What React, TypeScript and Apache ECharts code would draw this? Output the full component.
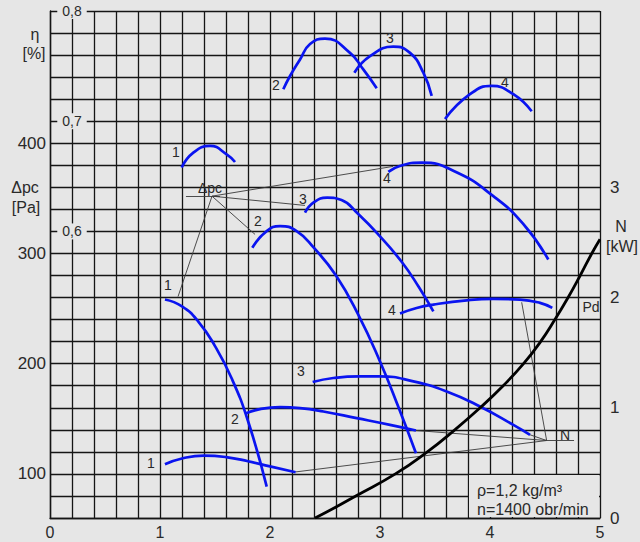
import React, { useEffect, useRef } from "react";
import * as echarts from "echarts";

// ---- tick labels ----
const xTickLabels = [0, 1, 2, 3, 4, 5];
const dpcTickLabels = [100, 200, 300, 400];
const etaTickLabels = [0.6, 0.7, 0.8];
const nTickLabels = [0, 1, 2, 3];

// ---- pressure curves Δpc [Pa] vs flow ----
const dpc1 = [[1.045, 258.2], [1.2, 252], [1.35, 238], [1.5, 216], [1.65, 187], [1.8, 148], [1.97, 88.5]];
const dpc2 = [[1.839, 305.2], [1.97, 320.3], [2.091, 324.8], [2.242, 320.3], [2.4, 305], [2.6, 280], [2.8, 245], [3.0, 202], [3.17, 160], [3.327, 118.8]];
const dpc3 = [[2.318, 337], [2.4, 346.5], [2.52, 350.6], [2.65, 348.5], [2.8, 336], [3.0, 315.5], [3.2, 292], [3.35, 270], [3.485, 247.5]];
const dpc4 = [[3.076, 374], [3.18, 379.4], [3.38, 382.5], [3.7, 373.4], [4.03, 352], [4.3, 327], [4.53, 294.5]];

// ---- efficiency curves η ----
const eta1 = [[1.197, 0.658], [1.303, 0.6715], [1.455, 0.6776], [1.606, 0.670], [1.682, 0.663]];
const eta2 = [[2.121, 0.729], [2.182, 0.741], [2.273, 0.756], [2.364, 0.770], [2.5, 0.775], [2.727, 0.762], [2.848, 0.747], [2.97, 0.730]];
const eta3 = [[2.767, 0.744], [2.909, 0.759], [3.121, 0.7676], [3.273, 0.762], [3.394, 0.744], [3.47, 0.723]];
const eta4 = [[3.591, 0.702], [3.818, 0.7245], [4.015, 0.732], [4.212, 0.7245], [4.379, 0.709]];

// ---- lower curves (on Δpc scale) ----
const low1 = [[1.045, 108.8], [1.2, 114], [1.4, 116.6], [1.6, 115.3], [1.8, 111.5], [2.0, 106.8], [2.233, 101.5]];
const low2 = [[1.773, 154.5], [1.909, 158.8], [2.091, 160.6], [2.273, 159.7], [2.485, 156.6], [2.788, 150.6], [3.091, 144.5], [3.327, 139.4]];
const low3 = [[2.388, 183.4], [2.576, 187], [2.818, 188.5], [3.0, 188.5], [3.303, 183.9], [3.606, 174.8], [3.909, 161.2], [4.212, 144.5], [4.364, 135.5]];
const low4 = [[3.182, 245.5], [3.333, 250.5], [3.485, 253.6], [3.788, 257.5], [4.03, 258.8], [4.273, 258.2], [4.455, 255.2], [4.566, 250.6]];

// ---- power N [kW] ----
const powerN = [[2.41, 0], [2.6, 0.1], [2.78, 0.2], [3.14, 0.4], [3.43, 0.6], [3.68, 0.8], [3.91, 1.0], [4.12, 1.2], [4.305, 1.4], [4.46, 1.6], [4.59, 1.8], [4.71, 2.0], [4.82, 2.2], [4.925, 2.4], [5.0, 2.53]];

// ---- leader lines (Δpc scale) ----
const dpcLeaderHub = [1.473, 352];
const dpcLeaderEnds = [[1.164, 260.9], [1.864, 317.3], [2.318, 343.6], [3.118, 379]];
const dpcUnderline = [[1.236, 352], [1.545, 352]];
const nLeaderHub = [4.515, 130.3];
const nLeaderEnds = [[4.288, 255.7], [4.364, 135.5], [3.327, 139.4], [2.233, 101.8]];
const nUnderline = [[4.515, 130.3], [4.764, 130.3]];

const BG = "#e6e6e6";
const GRID = "#151515";
const TXT = "#2a2a2a";
const BLUE = "#0a14f0";
const FONT = '"Liberation Sans", Arial, sans-serif';

const near = (v: number, list: number[]) => list.some((t) => Math.abs(v - t) < 1e-6);

function txt(text: string, x: number, y: number, size: number, align = "center") {
  return {
    type: "text",
    x,
    y,
    z: 110,
    style: {
      text,
      font: `${size}px ${FONT}`,
      fill: TXT,
      align,
      verticalAlign: "middle",
      textAlign: align,
      textVerticalAlign: "middle",
    },
  };
}

export default function App() {
  const ref = useRef<HTMLDivElement>(null);
  useEffect(() => {
    if (!ref.current) return;
    const chart = echarts.init(ref.current, undefined, { renderer: "svg" });
    const blue = (name: string, data: number[][], yAxisIndex = 0) => ({
      name,
      type: "line",
      data,
      yAxisIndex,
      smooth: 0.5,
      showSymbol: false,
      symbol: "none",
      lineStyle: { color: BLUE, width: 2.7 },
      z: 5,
    });
    const leaders = (hub: number[], ends: number[][], under: number[][]) => ({
      type: "lines",
      coordinateSystem: "cartesian2d",
      xAxisIndex: 0,
      yAxisIndex: 0,
      lineStyle: { color: "#3a3a3a", width: 0.9, opacity: 1 },
      z: 4,
      data: [...ends.map((e) => ({ coords: [hub, e] })), { coords: under }],
    });
    chart.setOption({
      animation: false,
      backgroundColor: BG,
      grid: { left: 50, right: 40, top: 11, bottom: 24, containLabel: false },
      xAxis: {
        type: "value",
        min: 0,
        max: 5,
        interval: 0.2,
        axisLine: { show: true, lineStyle: { color: GRID, width: 1.4 } },
        axisTick: { show: false },
        splitLine: { show: true, lineStyle: { color: GRID, width: 1.3 } },
        axisLabel: {
          color: TXT,
          fontSize: 16,
          fontFamily: FONT,
          margin: 6,
          showMinLabel: true,
          showMaxLabel: true,
          formatter: (v: number) => (near(v, xTickLabels) ? String(Math.round(v)) : ""),
        },
      },
      yAxis: [
        {
          type: "value",
          position: "left",
          min: 60,
          max: 520,
          interval: 20,
          axisLine: { show: true, lineStyle: { color: GRID, width: 1.4 } },
          axisTick: { show: false },
          splitLine: { show: true, lineStyle: { color: GRID, width: 1.3 } },
          axisLabel: {
            color: TXT,
            fontSize: 17,
            fontFamily: FONT,
            margin: 4,
            formatter: (v: number) => (near(v, dpcTickLabels) ? String(Math.round(v)) : ""),
          },
        },
        {
          type: "value",
          position: "left",
          offset: -22,
          min: 0.34,
          max: 0.8,
          z: 6,
          axisLine: { show: false },
          axisTick: { show: false },
          splitLine: { show: false },
          axisLabel: {
            customValues: etaTickLabels,
            color: TXT,
            fontSize: 14,
            fontFamily: FONT,
            margin: 0,
            align: "center",
            backgroundColor: BG,
            padding: [1, 5, 1, 5],
            formatter: (v: number) => v.toFixed(1).replace(".", ","),
          },
        },
        {
          type: "value",
          position: "right",
          min: 0,
          max: 4.6,
          interval: 0.2,
          axisLine: { show: false },
          axisTick: { show: false },
          splitLine: { show: false },
          axisLabel: {
            color: TXT,
            fontSize: 17,
            fontFamily: FONT,
            margin: 10,
            showMaxLabel: false,
            formatter: (v: number) => (near(v, nTickLabels) ? String(Math.round(v)) : ""),
          },
        },
      ],
      series: [
        blue("dpc1", dpc1),
        blue("dpc2", dpc2),
        blue("dpc3", dpc3),
        blue("dpc4", dpc4),
        blue("eta1", eta1, 1),
        blue("eta2", eta2, 1),
        blue("eta3", eta3, 1),
        blue("eta4", eta4, 1),
        blue("low1", low1),
        blue("low2", low2),
        blue("low3", low3),
        blue("low4", low4),
        {
          name: "N",
          type: "line",
          yAxisIndex: 2,
          data: powerN,
          smooth: 0.5,
          symbol: "none",
          lineStyle: { color: "#000", width: 2.8 },
          z: 5,
        },
        leaders(dpcLeaderHub, dpcLeaderEnds, dpcUnderline),
        leaders(nLeaderHub, nLeaderEnds, nUnderline),
      ],
      graphic: [
        { type: "rect", z: 100, shape: { x: 469, y: 475, width: 130, height: 42 }, style: { fill: BG } },
        txt("ρ=1,2 kg/m³", 477, 490, 16, "left"),
        txt("n=1400 obr/min", 477, 509, 16, "left"),
        txt("η", 35, 34, 16),
        txt("[%]", 34, 53, 16),
        txt("Δpc", 25, 187, 16),
        txt("[Pa]", 26, 207, 16),
        txt("N", 621, 226, 16),
        txt("[kW]", 622, 246, 16),
        txt("Δpc", 210, 188, 14),
        txt("N", 565, 435, 14),
        txt("Pd", 591, 307, 14),
        txt("1", 176, 152, 14),
        txt("2", 276, 85, 14),
        txt("3", 390, 38, 14),
        txt("4", 505, 82, 14),
        txt("1", 168, 285, 14),
        txt("2", 258, 221, 14),
        txt("3", 303, 199, 14),
        txt("4", 387, 178, 14),
        txt("1", 151, 463, 14),
        txt("2", 235, 419, 14),
        txt("3", 301, 371, 14),
        txt("4", 392, 310, 14),
      ],
    });
    return () => chart.dispose();
  }, []);
  return (
    <div
      ref={ref}
      style={{ position: "fixed", left: 0, top: 0, width: 640, height: 542, background: BG }}
    />
  );
}
